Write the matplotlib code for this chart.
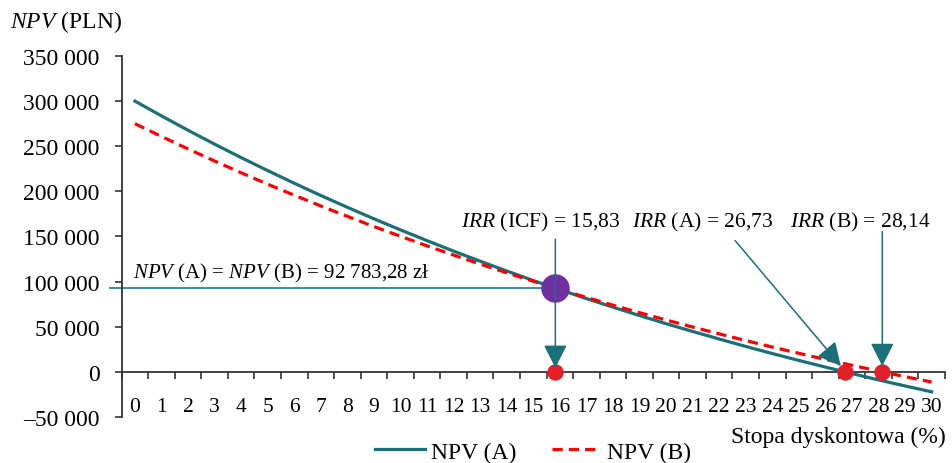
import matplotlib
matplotlib.use("Agg")
from matplotlib import pyplot as plt
from matplotlib.ticker import FuncFormatter

# discount rate (%) and NPV of both projects (PLN)
rates = list(range(31))
npv_a = [300000, 283600, 267700, 252300, 237400, 223000, 209000, 195400,
         182300, 169600, 157300, 145400, 133800, 122600, 111800, 101200,
         91100, 81200, 71700, 62400, 53400, 44800, 36400, 28200, 20300,
         12700, 5300, -1900, -8900, -15600, -22100]
npv_b = [275000, 260800, 247000, 233600, 220600, 207900, 195700, 183800,
         172300, 161000, 150200, 139600, 129400, 119400, 109800, 100400,
         91300, 82500, 73900, 65600, 57500, 49700, 42100, 34700, 27500,
         20600, 13800, 7300, 900, -5300, -11300]

irr_icf = 15.83
npv_icf = 92783.28
irr_a = 26.73
irr_b = 28.14

plt.rcParams['font.family'] = ['Liberation Serif', 'DejaVu Serif']
plt.rcParams['mathtext.fontset'] = 'custom'
plt.rcParams['mathtext.rm'] = 'Liberation Serif'
plt.rcParams['mathtext.it'] = 'Liberation Serif:italic'

TEAL = '#1b6f78'
RED = '#ff0000'
DOT_RED = '#e3202a'
PURPLE = '#7030a0'
AXIS = '#333333'
FS = 17


def pln(v, pos=None):
    s = f"{abs(int(v)):,}".replace(',', ' ')
    return ('\u2013' + s) if v < 0 else s


def arrow(ax, start, end):
    ax.annotate('', xy=end, xytext=start, zorder=6,
                arrowprops=dict(arrowstyle='-|>,head_length=0.75,head_width=0.38',
                                mutation_scale=19, color=TEAL, lw=1.1,
                                shrinkA=0, shrinkB=0))


fig = plt.figure(figsize=(9.52, 4.64), dpi=100)
ax = fig.add_axes([0.1278, 0.0991, 0.8648, 0.7781])

ax.plot(rates, npv_a, color=TEAL, lw=2.3, label='NPV (A)', zorder=3)
ax.plot(rates, npv_b, color=RED, lw=2.3, dashes=(3.2, 1.9), label='NPV (B)', zorder=3)

# NPV(A) = NPV(B) crossing and the IRR points
ax.plot([-0.94, irr_icf], [npv_icf, npv_icf], color='#3f8f96', lw=1.4,
        clip_on=False, zorder=2)
ax.scatter([irr_icf], [npv_icf], s=420, color=PURPLE, zorder=5, linewidths=0)
ax.scatter([irr_icf, irr_a, irr_b], [0, 0, 0], s=140, color=DOT_RED, zorder=4,
           linewidths=0, clip_on=False)

arrow(ax, (irr_icf, 147000), (irr_icf, 4500))
arrow(ax, (22.6, 145500), (irr_a - 0.15, 6500))
arrow(ax, (irr_b, 155500), (irr_b, 6500))

ax.text(-0.08, npv_icf + 5000, r'$\mathit{NPV}$ (A) = $\mathit{NPV}$ (B) = 92 783,28 zł',
        fontsize=15, ha='left', va='bottom')
ax.text(15.29, 166600, r'$\mathit{IRR}$ (ICF) = 15,83', fontsize=15.5, ha='center', va='center')
ax.text(21.38, 166600, r'$\mathit{IRR}$ (A) = 26,73', fontsize=15.5, ha='center', va='center')
ax.text(27.3, 166600, r'$\mathit{IRR}$ (B) = 28,14', fontsize=15.5, ha='center', va='center')

ax.set_xlim(-0.5, 30.5)
ax.set_ylim(-50000, 350000)

for side in ('top', 'right'):
    ax.spines[side].set_visible(False)
ax.spines['bottom'].set_position(('data', 0))
for side in ('left', 'bottom'):
    ax.spines[side].set_color(AXIS)
    ax.spines[side].set_linewidth(1.3)

ax.set_yticks(range(-50000, 350001, 50000))
ax.yaxis.set_major_formatter(FuncFormatter(pln))
ax.tick_params(axis='y', direction='out', length=5, width=1.2, color=AXIS,
               pad=11, labelsize=FS)

ax.set_xticks(rates)
ax.set_xticks([i + 0.5 for i in range(-1, 31)], minor=True)
ax.tick_params(axis='x', which='major', length=0, pad=18, labelsize=15.5)
ax.tick_params(axis='x', which='minor', direction='out', length=5, width=1.2, color=AXIS)

fig.text(0.011, 0.953, r'$\mathit{NPV}$ (PLN)', fontsize=FS, ha='left', va='center')
fig.text(0.993, 0.058, 'Stopa dyskontowa (%)', fontsize=FS, ha='right', va='center')

fig.legend(loc='center', bbox_to_anchor=(0.56, 0.024), ncol=2, frameon=False,
           fontsize=FS, handlelength=2.1, handletextpad=0.25, columnspacing=1.5)

fig.savefig('out.png', dpi=100)
